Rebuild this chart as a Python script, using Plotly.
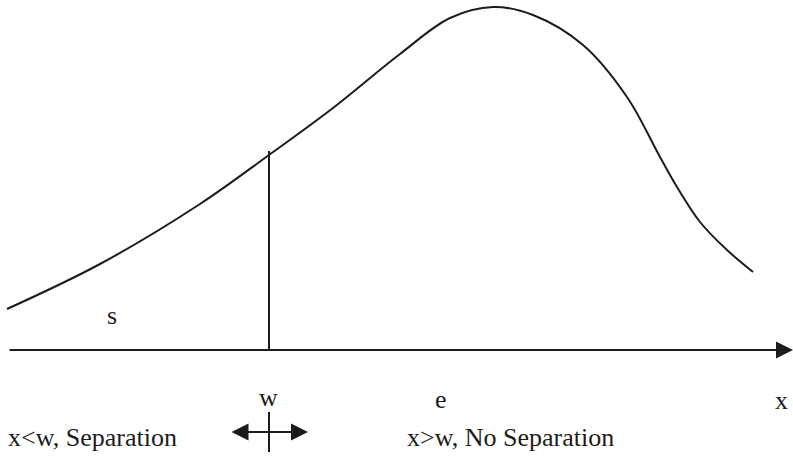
import plotly.graph_objects as go

# curve: x position and height above the x axis
curve_x = [7, 100, 200, 269, 333, 400, 450, 493, 533, 583, 627, 660, 677, 700, 727, 753]
curve_h = [41, 86, 146, 195, 242, 296, 332, 343, 335, 305, 253, 193, 163, 128, 100, 78]

w_pos = 269
w_height = 199
axis_start, axis_end = 8, 793

# text labels: (text, x, y, anchor)
labels = [
    ("s", 112, 35, "center"),
    ("w", 268, -47, "center"),
    ("e", 441, -49, "center"),
    ("x", 781, -50, "center"),
    ("x<w, Separation", 6, -87, "left"),
    ("x>w, No Separation", 405, -87, "left"),
]

ink = "#1c1c1c"
serif = "Liberation Serif, Times New Roman, serif"

fig = go.Figure()
fig.add_trace(go.Scatter(x=curve_x, y=curve_h, mode="lines",
                         line=dict(color=ink, width=2, shape="spline", smoothing=1),
                         hoverinfo="skip", showlegend=False))

# vertical line at w
fig.add_shape(type="line", x0=w_pos, x1=w_pos, y0=0, y1=w_height,
              line=dict(color=ink, width=2))
# tick through the double arrow
fig.add_shape(type="line", x0=w_pos, x1=w_pos, y0=-62, y1=-102,
              line=dict(color=ink, width=2))

# x axis arrow
fig.add_annotation(x=axis_end, y=0, ax=axis_start, ay=0, axref="x", ayref="y",
                   text="", showarrow=True, arrowhead=2, arrowsize=1.7,
                   arrowwidth=2, arrowcolor=ink, standoff=0)
# double-headed arrow around w
fig.add_annotation(x=308, y=-82, ax=230, ay=-82, axref="x", ayref="y",
                   text="", showarrow=True, arrowhead=2, startarrowhead=2,
                   arrowside="end+start", arrowsize=1.7, startarrowsize=1.7,
                   arrowwidth=2, arrowcolor=ink, standoff=0, startstandoff=0)

for text, lx, ly, anchor in labels:
    fig.add_annotation(x=lx, y=ly, text=text, showarrow=False,
                       xanchor=anchor, yanchor="middle",
                       font=dict(family=serif, size=26, color=ink))

fig.update_layout(
    width=793, height=457, autosize=False,
    margin=dict(l=0, r=0, t=0, b=0),
    paper_bgcolor="white", plot_bgcolor="white",
    xaxis=dict(range=[0, 793], visible=False, fixedrange=True),
    yaxis=dict(range=[-107, 350], visible=False, fixedrange=True),
)

# the page body has a default 8px margin, drop it so the figure fills the window
fig.write_html("out.html", config={"displayModeBar": False},
               post_script="document.body.style.margin='0';")
